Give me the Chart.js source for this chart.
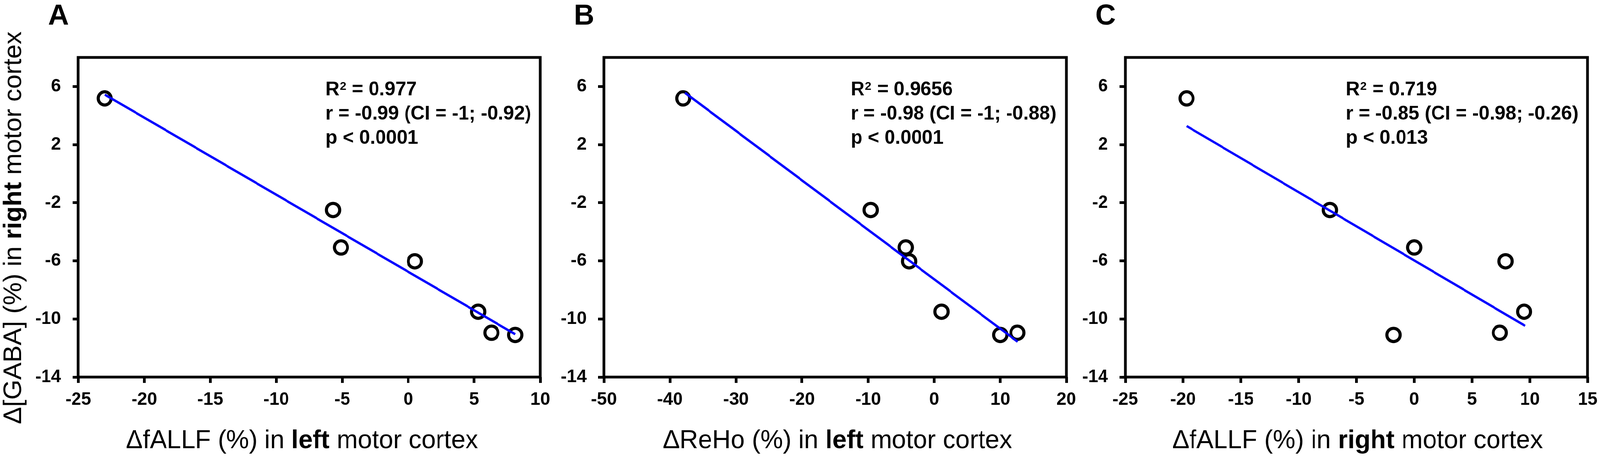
<!DOCTYPE html>
<html>
<head>
<meta charset="utf-8">
<script src="https://cdn.jsdelivr.net/npm/chart.js@4.4.1/dist/chart.umd.min.js"></script>
<style>
  html, body { margin: 0; padding: 0; background: #fff; overflow: hidden; }
  #figure { position: absolute; left: 0; top: 0; width: 4149px; height: 1167px; transform-origin: 0 0; }
  .panel { position: absolute; top: 0; height: 1167px; }
</style>
</head>
<body>
<div id="figure">
  <div class="panel" style="left:0;width:1443px"><canvas id="chartA"></canvas></div>
  <div class="panel" style="left:1443px;width:1364px"><canvas id="chartB"></canvas></div>
  <div class="panel" style="left:2800px;width:1359px"><canvas id="chartC"></canvas></div>
</div>
<script>
// GABA change, same subjects in every panel
const gabaChange = [5.18, -2.5, -5.08, -6.03, -9.5, -10.95, -11.1];

const fallfLeft = [-23.0, -5.7, -5.1, 0.5, 5.3, 6.3, 8.1];
const rehoLeft = [-38.0, -9.6, -4.3, -3.8, 1.1, 12.6, 10.0];
const fallfRight = [-19.7, -7.3, 0.0, 7.9, 9.5, 7.4, -1.8];

// regression line end points
const fitAx = [-23.0, 8.1];
const fitAy = [5.45, -11.05];
const fitBx = [-37.7, 12.65];
const fitBy = [5.56, -11.57];
const fitCx = [-19.7, 9.6];
const fitCy = [3.28, -10.48];

const yTicks = [-14, -10, -6, -2, 2, 6];
const xTicksA = [-25, -20, -15, -10, -5, 0, 5, 10];
const xTicksB = [-50, -40, -30, -20, -10, 0, 10, 20];
const xTicksC = [-25, -20, -15, -10, -5, 0, 5, 10, 15];

const panelLetters = ['A', 'B', 'C'];
const r2Values = ['0.977', '0.9656', '0.719'];
const rLines = ['r = -0.99 (CI = -1; -0.92)', 'r = -0.98 (CI = -1; -0.88)', 'r = -0.85 (CI = -0.98; -0.26)'];
const pLines = ['p < 0.0001', 'p < 0.0001', 'p < 0.013'];
const xTitles = [
  [['\u0394fALLF (%) in ', false], ['left', true], [' motor cortex', false]],
  [['\u0394ReHo (%) in ', false], ['left', true], [' motor cortex', false]],
  [['\u0394fALLF (%) in ', false], ['right', true], [' motor cortex', false]]
];
const yTitle = [['\u0394[GABA] (%) in ', false], ['right', true], [' motor cortex', false]];

const FONT = "'Liberation Sans', Arial, Helvetica, sans-serif";

// the page is drawn at 4149x1167 and fitted to the window
const fig = document.getElementById('figure');
fig.style.transform = 'scale(' + (window.innerWidth / 4149) + ',' + (window.innerHeight / 1167) + ')';

function font(size, bold) {
  return (bold ? 'bold ' : '') + size + 'px ' + FONT;
}

function drawRich(ctx, parts, size, x, y) {
  let total = 0;
  parts.forEach(p => { ctx.font = font(size, p[1]); total += ctx.measureText(p[0]).width; });
  let cx = x - total / 2;
  ctx.textAlign = 'left';
  ctx.textBaseline = 'alphabetic';
  parts.forEach(p => {
    ctx.font = font(size, p[1]);
    ctx.fillText(p[0], cx, y);
    cx += ctx.measureText(p[0]).width;
  });
}

const decorPlugin = {
  id: 'decor',
  afterDraw(chart, args, opts) {
    const ctx = chart.ctx;
    const a = chart.chartArea;
    const i = opts.panel;
    ctx.save();
    ctx.fillStyle = '#000';
    ctx.strokeStyle = '#000';

    // frame
    ctx.lineWidth = 7;
    ctx.strokeRect(a.left, a.top, a.right - a.left, a.bottom - a.top);

    // panel letter
    ctx.font = font(74, true);
    ctx.textAlign = 'left';
    ctx.textBaseline = 'alphabetic';
    ctx.fillText(panelLetters[i], a.left - 78, 63);

    // statistics
    const tx = a.left + opts.statsOffset;
    ctx.font = font(50, true);
    ctx.fillText('R', tx, a.top + 97);
    const rw = ctx.measureText('R').width;
    ctx.font = font(30, true);
    ctx.fillText('2', tx + rw + 1, a.top + 83);
    const sw = ctx.measureText('2').width;
    ctx.font = font(50, true);
    ctx.fillText(' = ' + r2Values[i], tx + rw + sw + 2, a.top + 97);
    ctx.fillText(rLines[i], tx, a.top + 159);
    ctx.fillText(pLines[i], tx, a.top + 221);

    // x axis title
    drawRich(ctx, xTitles[i], 66, (a.left + a.right) / 2 + opts.titleShift, 1147);

    // y axis title, first panel only
    if (i === 0) {
      ctx.translate(55, (a.top + a.bottom) / 2 + 27);
      ctx.rotate(-Math.PI / 2);
      drawRich(ctx, yTitle, 66, 0, 0);
    }
    ctx.restore();
  }
};

function makeChart(id, panel, xs, fitX, fitY, xTicks, padLeft, statsOffset, titleShift) {
  const ctx = document.getElementById(id).getContext('2d');
  return new Chart(ctx, {
    type: 'scatter',
    data: {
      datasets: [
        {
          data: fitX.map((x, k) => ({ x: x, y: fitY[k] })),
          showLine: true,
          borderColor: '#0000ff',
          borderWidth: 6,
          pointRadius: 0
        },
        {
          data: xs.map((x, k) => ({ x: x, y: gabaChange[k] })),
          pointRadius: 17,
          pointBorderWidth: 8,
          pointBorderColor: '#000',
          pointBackgroundColor: 'rgba(0,0,0,0)',
          borderColor: '#000',
          backgroundColor: 'rgba(0,0,0,0)'
        }
      ]
    },
    options: {
      responsive: true,
      maintainAspectRatio: false,
      animation: false,
      events: [],
      layout: { padding: { left: padLeft, right: 42, top: 147, bottom: 112 } },
      plugins: {
        legend: { display: false },
        tooltip: { enabled: false },
        decor: { panel: panel, statsOffset: statsOffset, titleShift: titleShift }
      },
      scales: {
        x: {
          type: 'linear',
          position: 'bottom',
          min: xTicks[0],
          max: xTicks[xTicks.length - 1],
          afterBuildTicks: scale => { scale.ticks = xTicks.map(v => ({ value: v })); },
          afterFit: scale => { scale.height = 90; },
          border: { display: false },
          grid: { drawOnChartArea: false, drawTicks: true, tickLength: 15, tickWidth: 7, tickColor: '#000' },
          ticks: {
            color: '#000',
            padding: 16,
            maxRotation: 0,
            font: { family: FONT, size: 46, weight: 'bold' },
            callback: v => String(v)
          }
        },
        y: {
          type: 'linear',
          position: 'left',
          min: -14,
          max: 8,
          afterBuildTicks: scale => { scale.ticks = yTicks.map(v => ({ value: v })); },
          afterFit: scale => { scale.width = 115; },
          border: { display: false },
          grid: { drawOnChartArea: false, drawTicks: true, tickLength: 15, tickWidth: 7, tickColor: '#000' },
          ticks: {
            color: '#000',
            padding: 30,
            font: { family: FONT, size: 46, weight: 'bold' },
            callback: v => String(v)
          }
        }
      }
    },
    plugins: [decorPlugin]
  });
}

makeChart('chartA', 0, fallfLeft, fitAx, fitAy, xTicksA, 88, 641, -19);
makeChart('chartB', 1, rehoLeft, fitBx, fitBy, xTicksB, 8, 640, 6);
makeChart('chartC', 2, fallfRight, fitCx, fitCy, xTicksC, 3, 572, 3);
</script>
</body>
</html>
